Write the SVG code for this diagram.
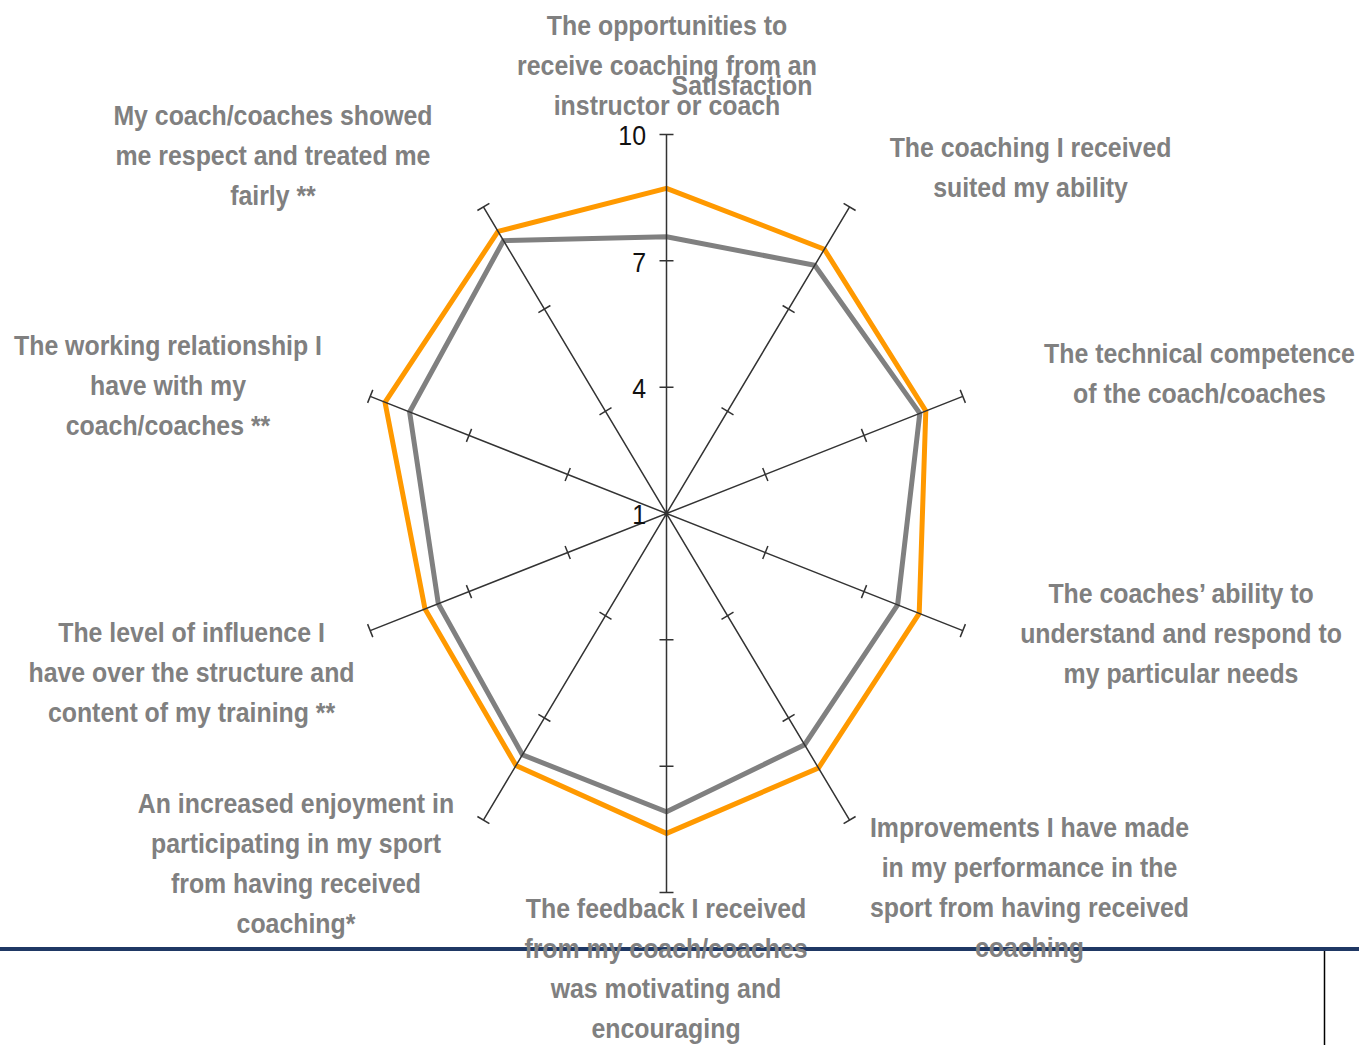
<svg xmlns="http://www.w3.org/2000/svg" width="1359" height="1045" viewBox="0 0 1359 1045">
<style>
.lbl{font-family:"Liberation Sans",Arial,sans-serif;font-weight:bold;font-size:28px;fill:#808080;text-anchor:middle}
.num{font-family:"Liberation Sans",Arial,sans-serif;font-size:28px;fill:#111;text-anchor:end}
.axis{stroke:#333;stroke-width:1.5;fill:none}
.ser{fill:none;stroke-width:5;stroke-linejoin:miter}
</style>
<rect width="1359" height="1045" fill="#fff"/>
<g id="frame">
<line x1="0" y1="949" x2="1359" y2="949" stroke="#1F3864" stroke-width="4"/>
<line x1="1324.5" y1="951" x2="1324.5" y2="1045" stroke="#000" stroke-width="1.5"/>
</g>
<g id="series">
<polygon id="series-orange" class="ser" stroke="#FF9900" points="666.5,188.3 824.3,249.2 925.8,411.0 919.2,613.4 818.5,768.0 666.5,833.4 516.0,765.5 425.0,608.9 385.0,402.3 498.0,231.4"/>
<polygon id="series-gray" class="ser" stroke="#808080" points="666.5,236.8 814.8,265.2 919.8,413.4 897.6,604.8 804.6,744.7 666.5,811.8 522.4,754.8 438.3,603.7 409.6,412.0 503.5,240.6"/>
</g>
<g id="axes" class="axis">
<path d="M666.5,134.5 L666.5,892.5 M849.6,206.9 L483.4,820.1 M962.8,396.4 L370.2,630.6 M962.8,630.6 L370.2,396.4 M849.6,820.1 L483.4,206.9"/>
<path d="M659.5,387.2 h14 M659.5,260.8 h14 M659.5,134.5 h14 M659.5,639.8 h14 M659.5,766.2 h14 M659.5,892.5 h14
M733.5,414.9 L721.5,407.7 M794.6,312.7 L782.6,305.5 M855.6,210.5 L843.6,203.3 M611.5,619.3 L599.5,612.1 M550.4,721.5 L538.4,714.3 M489.4,823.7 L477.4,816.5
M767.9,481.0 L762.7,468.0 M866.6,441.9 L861.4,428.9 M965.4,402.9 L960.2,389.9 M570.3,559.0 L565.1,546.0 M471.6,598.1 L466.4,585.1 M372.8,637.1 L367.6,624.1
M762.7,559.0 L767.9,546.0 M861.4,598.1 L866.6,585.1 M960.2,637.1 L965.4,624.1 M565.1,481.0 L570.3,468.0 M466.4,441.9 L471.6,428.9 M367.6,402.9 L372.8,389.9
M721.5,619.3 L733.5,612.1 M782.6,721.5 L794.6,714.3 M843.6,823.7 L855.6,816.5 M599.5,414.9 L611.5,407.7 M538.4,312.7 L550.4,305.5 M477.4,210.5 L489.4,203.3"/>
</g>
<g id="scale-labels" transform="scale(0.888,1)">
<text class="num" x="727.5" y="145.5">10</text>
<text class="num" x="727.5" y="272">7</text>
<text class="num" x="727.5" y="398">4</text>
<text class="num" x="727.5" y="524.5">1</text>
</g>
<g id="labels" transform="scale(0.888,1)">
<g id="label-1"><text class="lbl" x="751.1" y="35">The opportunities to</text><text class="lbl" x="751.1" y="75">receive coaching from an</text><text class="lbl" x="751.1" y="115">instructor or coach</text></g>
<g id="axis-title"><text class="lbl" x="835.6" y="95">Satisfaction</text></g>
<g id="label-2"><text class="lbl" x="1160.5" y="157">The coaching I received</text><text class="lbl" x="1160.5" y="197">suited my ability</text></g>
<g id="label-3"><text class="lbl" x="1350.8" y="363">The technical competence</text><text class="lbl" x="1350.8" y="403">of the coach/coaches</text></g>
<g id="label-4"><text class="lbl" x="1330" y="603">The coaches’ ability to</text><text class="lbl" x="1330" y="643">understand and respond to</text><text class="lbl" x="1330" y="683">my particular needs</text></g>
<g id="label-5"><text class="lbl" x="1159.3" y="837">Improvements I have made</text><text class="lbl" x="1159.3" y="877">in my performance in the</text><text class="lbl" x="1159.3" y="917">sport from having received</text><text class="lbl" x="1159.3" y="957">coaching</text></g>
<g id="label-6"><text class="lbl" x="750" y="918">The feedback I received</text><text class="lbl" x="750" y="958">from my coach/coaches</text><text class="lbl" x="750" y="998">was motivating and</text><text class="lbl" x="750" y="1038">encouraging</text></g>
<g id="label-7"><text class="lbl" x="333.3" y="813">An increased enjoyment in</text><text class="lbl" x="333.3" y="853">participating in my sport</text><text class="lbl" x="333.3" y="893">from having received</text><text class="lbl" x="333.3" y="933">coaching*</text></g>
<g id="label-8"><text class="lbl" x="215.7" y="642">The level of influence I</text><text class="lbl" x="215.7" y="682">have over the structure and</text><text class="lbl" x="215.7" y="722">content of my training **</text></g>
<g id="label-9"><text class="lbl" x="189.2" y="355">The working relationship I</text><text class="lbl" x="189.2" y="395">have with my</text><text class="lbl" x="189.2" y="435">coach/coaches **</text></g>
<g id="label-10"><text class="lbl" x="307.4" y="125">My coach/coaches showed</text><text class="lbl" x="307.4" y="165">me respect and treated me</text><text class="lbl" x="307.4" y="205">fairly **</text></g>
</g>
</svg>
